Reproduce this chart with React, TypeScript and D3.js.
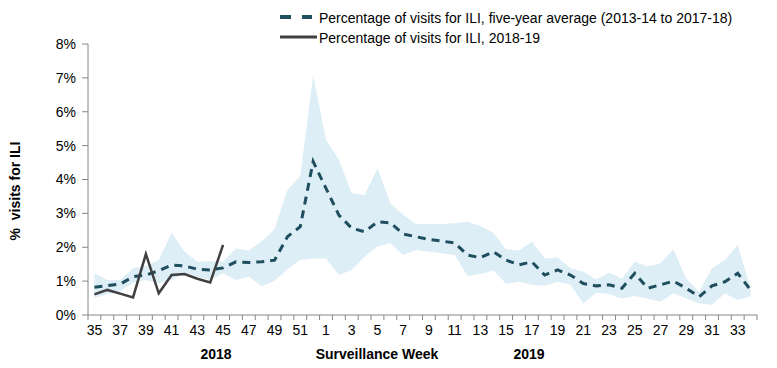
import React from 'react';
import * as d3 from 'd3';

// surveillance weeks, 2018 season (35-52) then 2019 (1-34)
const weeks = [35, 36, 37, 38, 39, 40, 41, 42, 43, 44, 45, 46, 47, 48, 49, 50, 51, 52,
    1, 2, 3, 4, 5, 6, 7, 8, 9, 10, 11, 12, 13, 14, 15, 16, 17, 18, 19, 20, 21, 22, 23, 24, 25,
    26, 27, 28, 29, 30, 31, 32, 33, 34];

// five-year average (2013-14 to 2017-18), % of visits
const avgValues = [0.82, 0.87, 0.91, 1.13, 1.18, 1.31, 1.47, 1.45, 1.35, 1.33, 1.39, 1.57, 1.55,
    1.57, 1.62, 2.31, 2.61, 4.53, 3.74, 2.95, 2.56, 2.46, 2.75, 2.72, 2.39, 2.31, 2.23, 2.18, 2.13,
    1.77, 1.69, 1.87, 1.62, 1.48, 1.57, 1.18, 1.33, 1.18, 0.93, 0.86, 0.89, 0.79, 1.23, 0.79, 0.89,
    1.00, 0.79, 0.54, 0.86, 0.98, 1.23, 0.74];

// min / max of the five seasons (shaded band)
const bandUpper = [1.23, 1.03, 1.03, 1.38, 1.45, 1.62, 2.43, 1.87, 1.57, 1.59, 1.58, 1.97, 1.90,
    2.18, 2.53, 3.69, 4.10, 7.08, 5.17, 4.58, 3.59, 3.54, 4.33, 3.30, 2.95, 2.69, 2.69, 2.69, 2.71,
    2.75, 2.63, 2.43, 1.94, 1.90, 2.16, 1.67, 1.70, 1.38, 1.28, 1.05, 1.25, 1.08, 1.57, 1.43, 1.53,
    1.94, 1.08, 0.69, 1.38, 1.62, 2.07, 0.80];
const bandLower = [0.50, 0.62, 0.70, 0.95, 1.03, 0.93, 1.03, 1.23, 1.13, 1.03, 1.23, 1.03, 1.13,
    0.85, 1.01, 1.35, 1.62, 1.67, 1.67, 1.18, 1.33, 1.72, 2.02, 2.12, 1.77, 1.92, 1.87, 1.82, 1.77,
    1.15, 1.21, 1.31, 0.92, 0.98, 0.89, 0.86, 0.98, 0.89, 0.34, 0.66, 0.62, 0.49, 0.56, 0.49, 0.39,
    0.64, 0.49, 0.34, 0.30, 0.64, 0.44, 0.55];

// current season 2018-19 (weeks 35-45)
const currentValues = [0.61, 0.74, 0.63, 0.52, 1.80, 0.64, 1.18, 1.21, 1.07, 0.96, 2.07];

const yTicks = [0, 1, 2, 3, 4, 5, 6, 7, 8];

const legendLabels = [
    'Percentage of visits for ILI, five-year average (2013-14 to 2017-18)',
    'Percentage of visits for ILI, 2018-19'
];

const FONT = '"Liberation Sans", Arial, sans-serif';
const AXIS_COLOR = '#868686';
const AVG_COLOR = '#1f4e5f';
const CUR_COLOR = '#404040';
const BAND_COLOR = '#ddeef6';

const App = () => {
    const left = 88, right = 757, top = 44, bottom = 315;

    const x = d3.scaleBand<number>().domain(weeks).range([left, right]);
    const y = d3.scaleLinear().domain([0, 8]).range([bottom, top]);
    const cx = (w: number) => (x(w) as number) + x.bandwidth() / 2;

    const band = d3.area<number>()
        .x((_, i) => cx(weeks[i]))
        .y0((_, i) => y(bandLower[i]))
        .y1((d) => y(d));
    const line = d3.line<number>()
        .x((_, i) => cx(weeks[i]))
        .y((d) => y(d));

    const tickEdges = weeks.map(w => x(w) as number).concat([right]);

    return (
        <svg width={777} height={368} style={{ position: 'absolute', left: 0, top: 0, fontFamily: FONT }}>
            <rect width={777} height={368} fill="#fff" />

            {/* legend */}
            <g>
                <line x1={280} x2={312} y1={17} y2={17} stroke={AVG_COLOR} strokeWidth={4} strokeDasharray="11,11" />
                <line x1={280} x2={317} y1={37} y2={37} stroke={CUR_COLOR} strokeWidth={3} />
                <text x={319} y={22.5} fontSize={14} fill="#000">{legendLabels[0]}</text>
                <text x={319} y={43} fontSize={14} fill="#000">{legendLabels[1]}</text>
            </g>

            <path d={band(bandUpper) || ''} fill={BAND_COLOR} />
            <path d={line(avgValues) || ''} fill="none" stroke={AVG_COLOR} strokeWidth={3} strokeDasharray="8,6" />
            <path d={line(currentValues) || ''} fill="none" stroke={CUR_COLOR} strokeWidth={2.5} />

            {/* y axis */}
            <line x1={left} x2={left} y1={top} y2={bottom} stroke={AXIS_COLOR} />
            {yTicks.map(t => (
                <g key={'y' + t}>
                    <line x1={left - 6} x2={left} y1={y(t)} y2={y(t)} stroke={AXIS_COLOR} />
                    <text x={left - 12} y={y(t)} dy="0.35em" textAnchor="end" fontSize={14}>{t + '%'}</text>
                </g>
            ))}
            <text transform={`translate(20, 191) rotate(-90)`} textAnchor="middle" fontSize={14}
                fontWeight="bold" style={{ whiteSpace: 'pre' }}>{'%  visits for ILI'}</text>

            {/* x axis */}
            <line x1={left} x2={right} y1={bottom} y2={bottom} stroke={AXIS_COLOR} />
            {tickEdges.map((e, i) => (
                <line key={'xt' + i} x1={e} x2={e} y1={bottom} y2={bottom + 5} stroke={AXIS_COLOR} />
            ))}
            {weeks.filter(w => w % 2 === 1).map(w => (
                <text key={'xl' + w} x={cx(w)} y={335} textAnchor="middle" fontSize={14}>{w}</text>
            ))}
            <text x={216} y={359} textAnchor="middle" fontSize={14} fontWeight="bold">2018</text>
            <text x={377} y={359} textAnchor="middle" fontSize={14} fontWeight="bold">Surveillance Week</text>
            <text x={529} y={359} textAnchor="middle" fontSize={14} fontWeight="bold">2019</text>
        </svg>
    );
};

export default App;
